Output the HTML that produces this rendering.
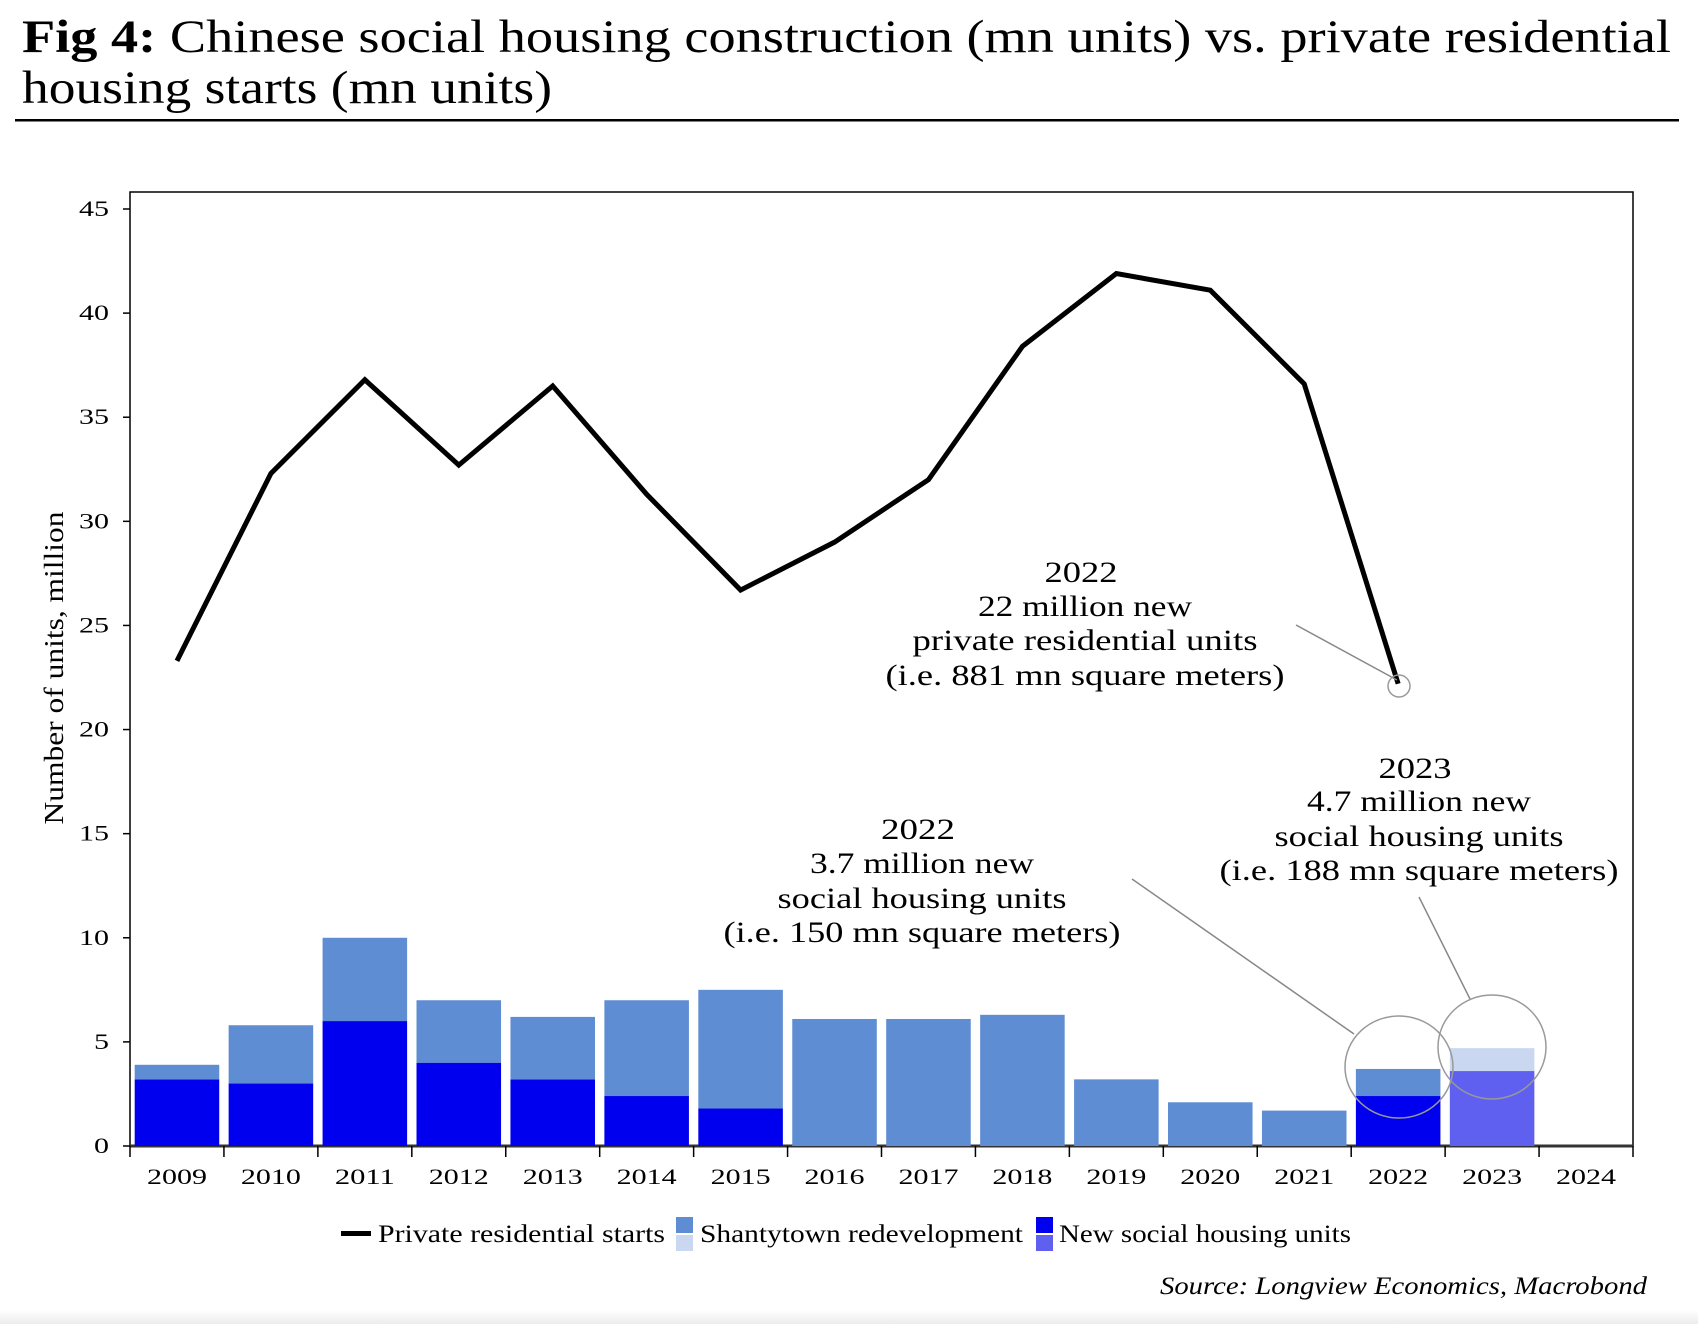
<!DOCTYPE html>
<html><head><meta charset="utf-8"><style>
body{margin:0;background:#fff;}
svg{display:block;font-family:"Liberation Serif",serif;}
</style></head><body>
<svg id="chart" width="1698" height="1324" viewBox="0 0 1698 1324">
<defs><linearGradient id="bg" x1="0" y1="0" x2="0" y2="1"><stop offset="0" stop-color="#fff"/><stop offset="1" stop-color="#ececec"/></linearGradient></defs>
<rect x="0" y="1310" width="1698" height="14" fill="url(#bg)"/>
<text x="22" y="52" font-size="47" textLength="1649" lengthAdjust="spacingAndGlyphs"><tspan font-weight="bold">Fig 4:</tspan> Chinese social housing construction (mn units) vs. private residential</text>
<text x="22" y="103" font-size="47" textLength="530" lengthAdjust="spacingAndGlyphs">housing starts (mn units)</text>
<rect x="15" y="119" width="1664" height="2.5" fill="#000"/>
<rect x="130" y="192" width="1503" height="954" fill="none" stroke="#000" stroke-width="1.5"/>
<g id="yaxis"></g>
<g id="xaxis"></g>
<g id="bars"></g>
<g id="line"></g>
<text transform="translate(63,668) rotate(-90)" text-anchor="middle" font-size="27" textLength="313" lengthAdjust="spacingAndGlyphs">Number of units, million</text>
<g font-size="30" text-anchor="middle">
<text x="1081" y="582" textLength="73" lengthAdjust="spacingAndGlyphs">2022</text><text x="1085" y="616" textLength="214" lengthAdjust="spacingAndGlyphs">22 million new</text><text x="1085" y="650" textLength="345" lengthAdjust="spacingAndGlyphs">private residential units</text><text x="1085" y="685" textLength="399" lengthAdjust="spacingAndGlyphs">(i.e. 881 mn square meters)</text>
</g>
<line x1="1296" y1="625" x2="1397" y2="680" stroke="#888" stroke-width="1.5"/>
<circle cx="1399" cy="686" r="11" fill="none" stroke="#999" stroke-width="1.5"/>
<g font-size="30" text-anchor="middle">
<text x="918" y="839" textLength="74" lengthAdjust="spacingAndGlyphs">2022</text><text x="922" y="873" textLength="224" lengthAdjust="spacingAndGlyphs">3.7 million new</text><text x="922" y="908" textLength="289" lengthAdjust="spacingAndGlyphs">social housing units</text><text x="922" y="942" textLength="397" lengthAdjust="spacingAndGlyphs">(i.e. 150 mn square meters)</text>
</g>
<line x1="1132" y1="879" x2="1354" y2="1034" stroke="#888" stroke-width="1.5"/>
<ellipse cx="1399" cy="1067" rx="54" ry="51" fill="none" stroke="#999" stroke-width="1.5"/>
<g font-size="30" text-anchor="middle">
<text x="1415" y="778" textLength="73" lengthAdjust="spacingAndGlyphs">2023</text><text x="1419" y="811" textLength="224" lengthAdjust="spacingAndGlyphs">4.7 million new</text><text x="1419" y="846" textLength="289" lengthAdjust="spacingAndGlyphs">social housing units</text><text x="1419" y="880" textLength="399" lengthAdjust="spacingAndGlyphs">(i.e. 188 mn square meters)</text>
</g>
<line x1="1419" y1="897" x2="1470" y2="999" stroke="#888" stroke-width="1.5"/>
<ellipse cx="1492" cy="1047" rx="54" ry="52" fill="none" stroke="#999" stroke-width="1.5"/>
<g font-size="25">
<g><rect x="341" y="1231" width="30" height="5" fill="#000"/><text x="378" y="1242" textLength="287" lengthAdjust="spacingAndGlyphs">Private residential starts</text></g>
<g><rect x="676" y="1217" width="17" height="16" fill="#5f8dd3"/><rect x="676" y="1235" width="17" height="16" fill="#c9d8f0"/><text x="700" y="1242" textLength="323" lengthAdjust="spacingAndGlyphs">Shantytown redevelopment</text></g>
<g><rect x="1036" y="1217" width="17" height="16" fill="#0000ee"/><rect x="1036" y="1235" width="17" height="16" fill="#6060f0"/><text x="1059" y="1242" textLength="292" lengthAdjust="spacingAndGlyphs">New social housing units</text></g>
</g>
<text x="1647" y="1294" text-anchor="end" font-size="25" font-style="italic" textLength="487" lengthAdjust="spacingAndGlyphs">Source: Longview Economics, Macrobond</text>
</svg>
<script>
const years=["2009","2010","2011","2012","2013","2014","2015","2016","2017","2018","2019","2020","2021","2022","2023","2024"];
const privateStarts=[23.3,32.3,36.8,32.7,36.5,31.3,26.7,29.0,32.0,38.4,41.9,41.1,36.6,22.2];
const newSocial=[3.2,3.0,6.0,4.0,3.2,2.4,1.8,0,0,0,0,0,0,2.4,3.6];
const shantytown=[0.7,2.8,4.0,3.0,3.0,4.6,5.7,6.1,6.1,6.3,3.2,2.1,1.7,1.3,1.1];
const yTicks=[0,5,10,15,20,25,30,35,40,45];
const NS="http://www.w3.org/2000/svg";
const X0=130,BW=(1633-130)/16,Y0=1146,Y45=209;
function y(v){return Y0-(Y0-Y45)*v/45;}
function xc(i){return X0+BW*(i+0.5);}
function mk(t,a,p){const e=document.createElementNS(NS,t);for(const k in a)e.setAttribute(k,a[k]);p.appendChild(e);return e;}
const ya=document.getElementById('yaxis'),xa=document.getElementById('xaxis'),bg=document.getElementById('bars'),lg=document.getElementById('line');
yTicks.forEach(v=>{
  const t=mk('line',{x1:123,x2:130,y1:y(v),y2:y(v),stroke:'#000','stroke-width':1.5},ya);
  
  
  const s=String(v);
  const l=mk('text',{x:109,y:y(v)+7,'text-anchor':'end','font-size':22,textLength:s.length*15,lengthAdjust:'spacingAndGlyphs'},ya);
  l.textContent=s;
  
  
});
mk('line',{x1:130,x2:1633,y1:Y0,y2:Y0,stroke:'#333','stroke-width':3},xa);
for(let i=0;i<=16;i++){
  const t=mk('line',{x1:X0+BW*i,x2:X0+BW*i,y1:Y0,y2:Y0+11,stroke:'#000','stroke-width':1.5},xa);
  
  
}
years.forEach((yr,i)=>{
  const l=mk('text',{x:xc(i),y:1184,'text-anchor':'middle','font-size':22,textLength:60,lengthAdjust:'spacingAndGlyphs'},xa);
  l.textContent=yr;
  
  
});
const bw=BW*0.9;
newSocial.forEach((n,i)=>{
  const s=shantytown[i],last=i===14;
  if(n>0){const r=mk('rect',{x:xc(i)-bw/2,y:y(n),width:bw,height:Y0-y(n),fill:last?'#6060f0':'#0000ee'},bg);
  
  }
  if(s>0){const r=mk('rect',{x:xc(i)-bw/2,y:y(n+s),width:bw,height:y(n)-y(n+s),fill:last?'#c9d8f0':'#5f8dd3'},bg);
  
  }
});
const pl=mk('polyline',{points:privateStarts.map((v,i)=>xc(i)+','+y(v)).join(' '),fill:'none',stroke:'#000','stroke-width':5,'stroke-linejoin':'miter'},lg);


</script>
</body></html>
